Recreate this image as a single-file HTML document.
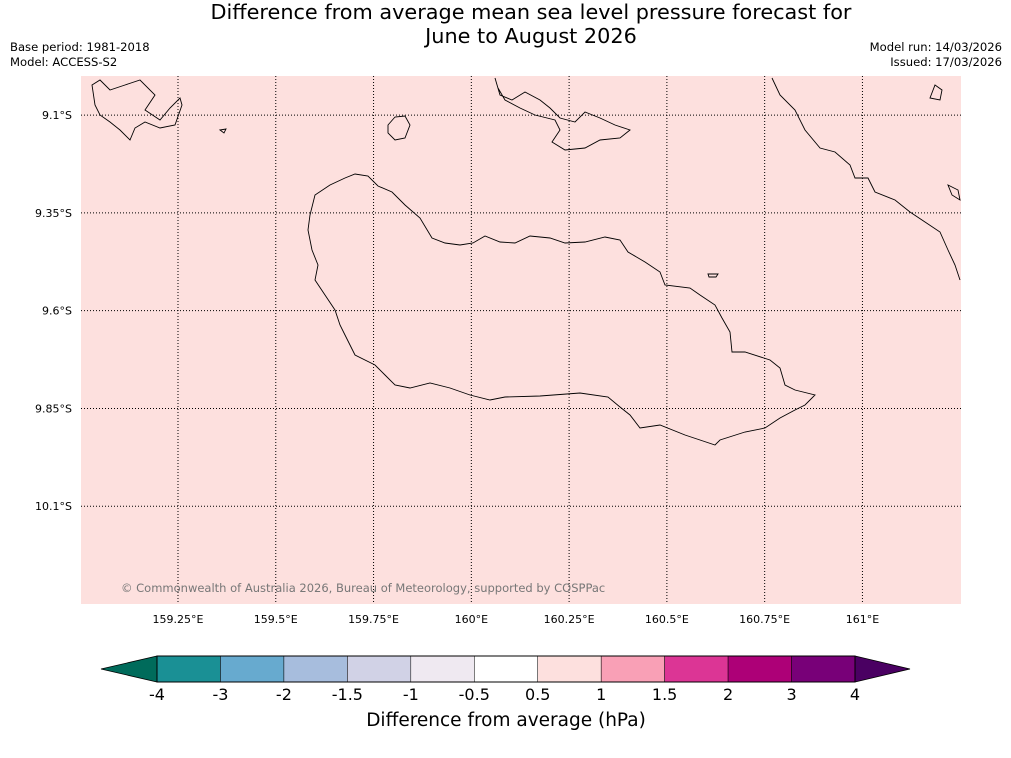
<!DOCTYPE html>
<html><head><meta charset="utf-8">
<style>
body{margin:0;background:#fff;font-family:"Liberation Sans","DejaVu Sans",sans-serif;}
#wrap{position:relative;width:1011px;height:758px;overflow:hidden;background:#fff;}
.t{position:absolute;color:#000;}
</style></head>
<body>
<div id="wrap">
<div class="t" style="left:0;width:1062px;top:0;text-align:center;font-size:20.8px;line-height:24px;font-family:'DejaVu Sans',sans-serif;">Difference from average mean sea level pressure forecast for<br>June to August 2026</div>
<div class="t" style="left:10px;top:40px;font-size:11.6px;line-height:15px;font-family:'DejaVu Sans',sans-serif;">Base period: 1981-2018<br>Model: ACCESS-S2</div>
<div class="t" style="right:9px;top:40px;font-size:11.6px;line-height:15px;text-align:right;font-family:'DejaVu Sans',sans-serif;">Model run: 14/03/2026<br>Issued: 17/03/2026</div>
<svg id="svg" width="1011" height="758" style="position:absolute;left:0;top:0" font-family="DejaVu Sans, sans-serif"></svg>
</div>
<script>
const lonTicks=[159.25,159.5,159.75,160,160.25,160.5,160.75,161];
const lonLabels=["159.25°E","159.5°E","159.75°E","160°E","160.25°E","160.5°E","160.75°E","161°E"];
const latTicks=[9.1,9.35,9.6,9.85,10.1];
const latLabels=["9.1°S","9.35°S","9.6°S","9.85°S","10.1°S"];
const cbBounds=["-4","-3","-2","-1.5","-1","-0.5","0.5","1","1.5","2","3","4"];
const cbColors=["#1a9095","#67aacf","#a7bddd","#d1d2e6","#efe9f1","#ffffff","#fde0de","#f9a0b6","#dc3595","#ad0077","#780078"];
const mapFill="#fde0de";
const NS="http://www.w3.org/2000/svg";
const svg=document.getElementById('svg');
const X0=81,X1=961,Y0=76,Y1=604,lonMin=159.002,lonMax=161.252,latMin=9.0,latMax=10.35;
const xs=l=>X0+(l-lonMin)/(lonMax-lonMin)*(X1-X0);
const ys=l=>Y0+(l-latMin)/(latMax-latMin)*(Y1-Y0);
function mk(t,a,p){const e=document.createElementNS(NS,t);for(const k in a)e.setAttribute(k,a[k]);(p||svg).appendChild(e);return e;}
const bg=mk('rect',{x:X0,y:Y0,width:X1-X0,height:Y1-Y0,fill:mapFill});


const coast=[
"M310,215 L315,195 330,185 345,178 355,174 368,176 378,186 392,192 405,205 420,218 432,238 445,243 460,245 473,243 485,236 500,242 515,243 530,236 550,238 565,243 585,242 605,237 620,240 628,252 645,262 660,272 665,285 690,288 700,295 715,305 722,318 730,332 732,352 745,352 770,360 780,368 785,385 795,390 815,395 805,405 795,410 780,418 765,428 745,432 720,440 715,445 700,440 685,435 660,425 640,428 630,415 620,407 608,397 580,393 540,396 505,397 490,400 470,395 450,388 430,383 410,388 395,385 385,375 375,365 355,355 345,335 340,325 335,310 325,295 315,280 318,265 312,250 308,230 Z",
"M772,78 L780,95 795,110 805,130 820,148 835,152 850,165 855,178 868,178 875,192 895,200 910,212 925,222 940,232 948,250 955,265 960,280",
"M495,78 L500,95 512,100 525,92 540,100 550,108 560,118 575,122 585,112 600,118 615,125 630,130 620,138 600,140 585,148 565,150 552,142 560,130 555,120 535,115 520,108 505,100 498,88",
"M92,85 L100,80 110,90 125,85 140,80 155,95 145,110 160,120 170,108 180,98 182,105 175,125 160,128 145,122 135,128 130,140 120,130 110,122 100,115 95,105 Z",
"M388,125 L395,117 405,116 410,125 405,138 395,140 388,133 Z",
"M935,85 L942,90 940,100 930,98 Z","M948,185 L958,190 960,200 952,195 Z","M708,274 L718,274 716,277 709,277 Z","M220,130 L226,129 224,133 Z"];
coast.forEach((d,i)=>{const p=mk('path',{d:d,fill:'none',stroke:'#000','stroke-width':0.9});

});
lonTicks.forEach((l,i)=>{const x=xs(l);
const g=mk('line',{x1:x,x2:x,y1:Y0,y2:Y1,stroke:'#000','stroke-width':1,'stroke-dasharray':'1,2'});


const t=mk('text',{x:x,y:623,'font-size':11,'text-anchor':'middle'});t.textContent=lonLabels[i];

});
latTicks.forEach((l,i)=>{const y=ys(l);
const g=mk('line',{x1:X0,x2:X1,y1:y,y2:y,stroke:'#000','stroke-width':1,'stroke-dasharray':'1,2'});


const t=mk('text',{x:72,y:y+4,'font-size':11,'text-anchor':'end'});t.textContent=latLabels[i];

});
const cr=mk('text',{x:121,y:592,'font-size':11.5,fill:'#777'});cr.textContent="© Commonwealth of Australia 2026, Bureau of Meteorology, supported by COSPPac";


const CB0=157,CB1=855,CT=656,CBt=682,n=cbBounds.length-1,w=(CB1-CB0)/n;
const lt=mk('polygon',{points:`101,669 ${CB0},${CT} ${CB0},${CBt}`,fill:'#006b5b',stroke:'#000','stroke-width':0.8});


const rt=mk('polygon',{points:`910,669 ${CB1},${CT} ${CB1},${CBt}`,fill:'#4a0062',stroke:'#000','stroke-width':0.8});


cbColors.forEach((c,i)=>{const r=mk('rect',{x:CB0+i*w,y:CT,width:w,height:CBt-CT,fill:c,stroke:'#000','stroke-width':0.5});

});
mk('rect',{x:CB0,y:CT,width:CB1-CB0,height:CBt-CT,fill:'none',stroke:'#000','stroke-width':1});
cbBounds.forEach((b,i)=>{const t=mk('text',{x:CB0+i*w,y:700,'font-size':16,'text-anchor':'middle'});t.textContent=b;

});
const ct=mk('text',{x:506,y:726,'font-size':18.5,'text-anchor':'middle'});ct.textContent="Difference from average (hPa)";


</script>
</body></html>
